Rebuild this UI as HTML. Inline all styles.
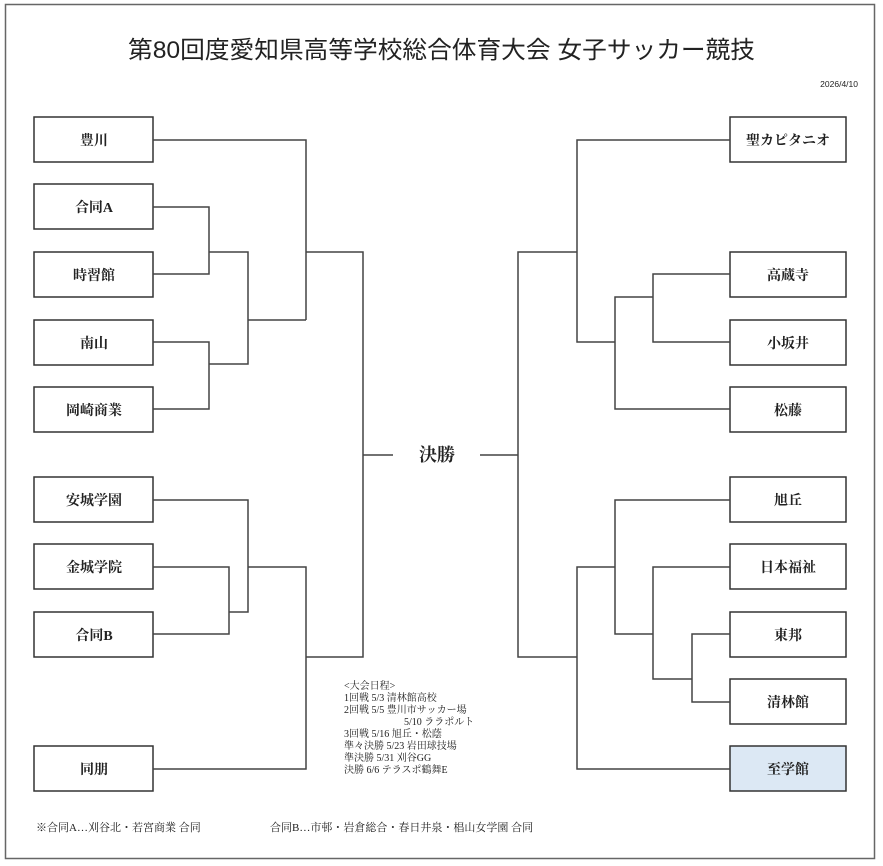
<!DOCTYPE html>
<html><head><meta charset="utf-8"><style>
html,body{margin:0;padding:0;background:#fff;}
svg{display:block;}
text{font-family:"Liberation Serif","Noto Serif CJK SC","Noto Sans CJK JP",serif;fill:#222;}
.b{font-family:"Liberation Sans","Noto Sans CJK JP",sans-serif;font-weight:bold;font-size:14px;}
.s{font-size:10px;}
</style></head><body>
<svg width="883" height="866" viewBox="0 0 883 866" xmlns="http://www.w3.org/2000/svg">
<rect x="5.5" y="4.5" width="869" height="854" fill="#fff" stroke="#666" stroke-width="1.5"/>
<text x="128" y="58" font-size="24" textLength="627" lengthAdjust="spacingAndGlyphs" style="font-family:'Liberation Sans','Noto Sans CJK JP',sans-serif">第80回度愛知県高等学校総合体育大会 女子サッカー競技</text>
<text x="858" y="87" font-size="8.5" text-anchor="end" style="font-family:'Liberation Sans',sans-serif">2026/4/10</text>
<g fill="#fff" stroke="#333" stroke-width="1.5">
<rect x="34" y="117" width="119" height="45"/>
<rect x="34" y="184" width="119" height="45"/>
<rect x="34" y="252" width="119" height="45"/>
<rect x="34" y="320" width="119" height="45"/>
<rect x="34" y="387" width="119" height="45"/>
<rect x="34" y="477" width="119" height="45"/>
<rect x="34" y="544" width="119" height="45"/>
<rect x="34" y="612" width="119" height="45"/>
<rect x="34" y="746" width="119" height="45"/>
<rect x="730" y="117" width="116" height="45"/>
<rect x="730" y="252" width="116" height="45"/>
<rect x="730" y="320" width="116" height="45"/>
<rect x="730" y="387" width="116" height="45"/>
<rect x="730" y="477" width="116" height="45"/>
<rect x="730" y="544" width="116" height="45"/>
<rect x="730" y="612" width="116" height="45"/>
<rect x="730" y="679" width="116" height="45"/>
<rect x="730" y="746" width="116" height="45" fill="#dce8f4"/>
</g>
<g fill="none" stroke="#444" stroke-width="1.5">
<polyline points="153,140 306,140 306,320"/>
<polyline points="153,207 209,207 209,274 153,274"/>
<polyline points="153,342 209,342 209,409 153,409"/>
<polyline points="209,252 248,252 248,364 209,364"/>
<polyline points="248,320 306,320"/>
<polyline points="306,252 363,252 363,657 306,657"/>
<polyline points="153,500 248,500 248,612 229,612"/>
<polyline points="153,567 229,567 229,634 153,634"/>
<polyline points="248,567 306,567 306,769 153,769"/>
<line x1="363" y1="455" x2="393" y2="455"/>
<line x1="480" y1="455" x2="518" y2="455"/>
<polyline points="730,140 577,140 577,342 615,342"/>
<polyline points="730,274 653,274 653,342 730,342"/>
<polyline points="653,297 615,297 615,409 730,409"/>
<polyline points="577,252 518,252 518,657 577,657"/>
<polyline points="730,500 615,500 615,634 653,634"/>
<polyline points="730,567 653,567 653,679 692,679"/>
<polyline points="730,634 692,634 692,702 730,702"/>
<polyline points="615,567 577,567 577,769 730,769"/>
</g>
<g class="b" text-anchor="middle">
<text x="94" y="145">豊川</text>
<text x="94" y="212">合同A</text>
<text x="94" y="280">時習館</text>
<text x="94" y="348">南山</text>
<text x="94" y="415">岡崎商業</text>
<text x="94" y="505">安城学園</text>
<text x="94" y="572">金城学院</text>
<text x="94" y="640">合同B</text>
<text x="94" y="774">同朋</text>
<text x="788" y="145">聖カピタニオ</text>
<text x="788" y="280">高蔵寺</text>
<text x="788" y="348">小坂井</text>
<text x="788" y="415">松藤</text>
<text x="788" y="505">旭丘</text>
<text x="788" y="572">日本福祉</text>
<text x="788" y="640">東邦</text>
<text x="788" y="707">清林館</text>
<text x="788" y="774">至学館</text>
<text x="437" y="461" style="font-size:18px">決勝</text>
</g>
<g class="s">
<text x="344" y="689">&lt;大会日程&gt;</text>
<text x="344" y="701">1回戦 5/3 清林館高校</text>
<text x="344" y="713">2回戦 5/5 豊川市サッカー場</text>
<text x="404" y="725">5/10 ララポルト</text>
<text x="344" y="737">3回戦 5/16 旭丘・松蔭</text>
<text x="344" y="749">準々決勝 5/23 岩田球技場</text>
<text x="344" y="761">準決勝 5/31 刈谷GG</text>
<text x="344" y="773">決勝 6/6 テラスポ鶴舞E</text>
<text x="36" y="831" style="font-size:11px">※合同A…刈谷北・若宮商業 合同</text>
<text x="270" y="831" style="font-size:11px">合同B…市邨・岩倉総合・春日井泉・椙山女学園 合同</text>
</g>
</svg>
</body></html>
